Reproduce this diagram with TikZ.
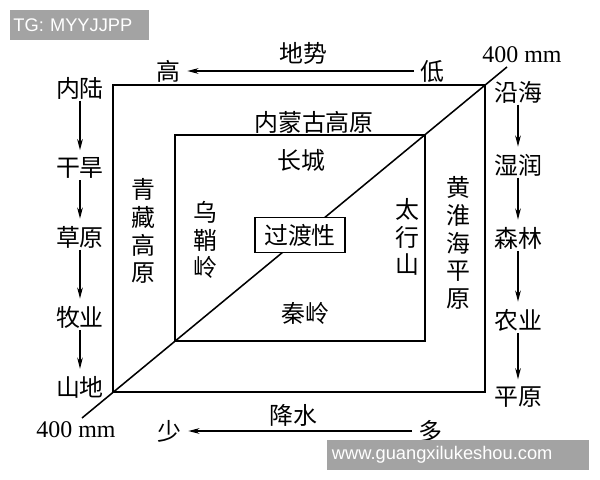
\documentclass[tikz,border=0pt]{standalone}
\usepackage{fontspec}
\setmainfont{Liberation Serif}
\newfontfamily\cjk{Noto Sans CJK SC}
\newfontfamily\wmfont{Liberation Sans}
\usepackage{tikz}
\usetikzlibrary{arrows.meta, positioning}
\definecolor{wmgray}{RGB}{163,163,163}

\begin{document}
\begin{tikzpicture}[x=0.025cm, y=-0.025cm, >={Stealth[length=8pt, width=4pt]},
	every node/.style={font=\cjk\fontsize{17}{20}\selectfont, inner sep=1pt},
	vtext/.style={align=center, font=\cjk\fontsize{17}{19.8}\selectfont},
	frame/.style={line width=1.4pt},
	flow/.style={->, line width=0.9pt, shorten >=4pt},
	mm/.style={font=\fontsize{17}{20}\selectfont},
	wmbox/.style={fill=wmgray, text=white, font=\wmfont\fontsize{13}{15}\selectfont, align=left}]

			\useasboundingbox (0,0) rectangle (600,480);

			% the two frames and the 400 mm line
			\draw [frame] (113,85) rectangle (485,392);
			\draw [frame] (175,135) rectangle (425,341);
			\coordinate (d1) at (82,418);
			\coordinate (d2) at (507,67);
			\draw [line width=1.1pt] (d1) -- (d2);

			\node [mm] (mmtop) at (522,55) {400 mm};
			\node [mm] (mmbot) at (76,430) {400 mm};

			% terrain
			\node (slope) at (303,53) {地势};
			\node (high) at (168,71) {高};
			\node (low) at (432,71) {低};
			\draw [flow, shorten <=3pt] (low) -- (high);

			% precipitation
			\node (rain) at (293,415) {降水};
			\node (few) at (169,431) {少};
			\node (much) at (430,431) {多};
			\draw [flow, shorten <=3pt] (much) -- (few);

			% inland column
			\node (inland) at (80,88) {内陆};
			\node (arid) [below of = inland, node distance=2cm] {干旱};
			\node (grass) [below of = arid, node distance=1.725cm] {草原};
			\node (herd) [below of = grass, node distance=2cm] {牧业};
			\node (mount) [below of = herd, node distance=1.75cm] {山地};

			\draw [flow] (inland) -- (arid);
			\draw [flow] (arid) -- (grass);
			\draw [flow] (grass) -- (herd);
			\draw [flow] (herd) -- (mount);

			% coastal column
			\node (coast) at (518,92) {沿海};
			\node (humid) [below of = coast, node distance=1.825cm] {湿润};
			\node (forest) [below of = humid, node distance=1.825cm] {森林};
			\node (farm) [below of = forest, node distance=2.05cm] {农业};
			\node (plain) [below of = farm, node distance=1.925cm] {平原};

			\draw [flow] (coast) -- (humid);
			\draw [flow] (humid) -- (forest);
			\draw [flow] (forest) -- (farm);
			\draw [flow] (farm) -- (plain);

			% regions
			\node (mongolia) at (314,122) {内蒙古高原};
			\node (wall) at (301,160) {长城};
			\node (qinling) at (305,313) {秦岭};
			\node [vtext] (tibet) at (143,231) {青\\藏\\高\\原};
			\node [vtext] (wushao) at (205,240) {乌\\鞘\\岭};
			\node [vtext] (taihang) at (407,237) {太\\行\\山};
			\node [vtext] (huang) at (458,243) {黄\\淮\\海\\平\\原};

			\node [draw, fill=white, line width=1.1pt, inner xsep=6.5pt, inner ysep=4.5pt] (trans) at (300,235) {过渡性};

			% watermarks
			\node [wmbox, minimum width=3.475cm, minimum height=0.75cm, text width=3.3cm] (tg) at (79.5,25) {TG: MYYJJPP};
			\node [wmbox, minimum width=6.55cm, minimum height=0.75cm, text width=6.3cm] (site) at (458,455) {www.guangxilukeshou.com};

		\end{tikzpicture}
\end{document}
